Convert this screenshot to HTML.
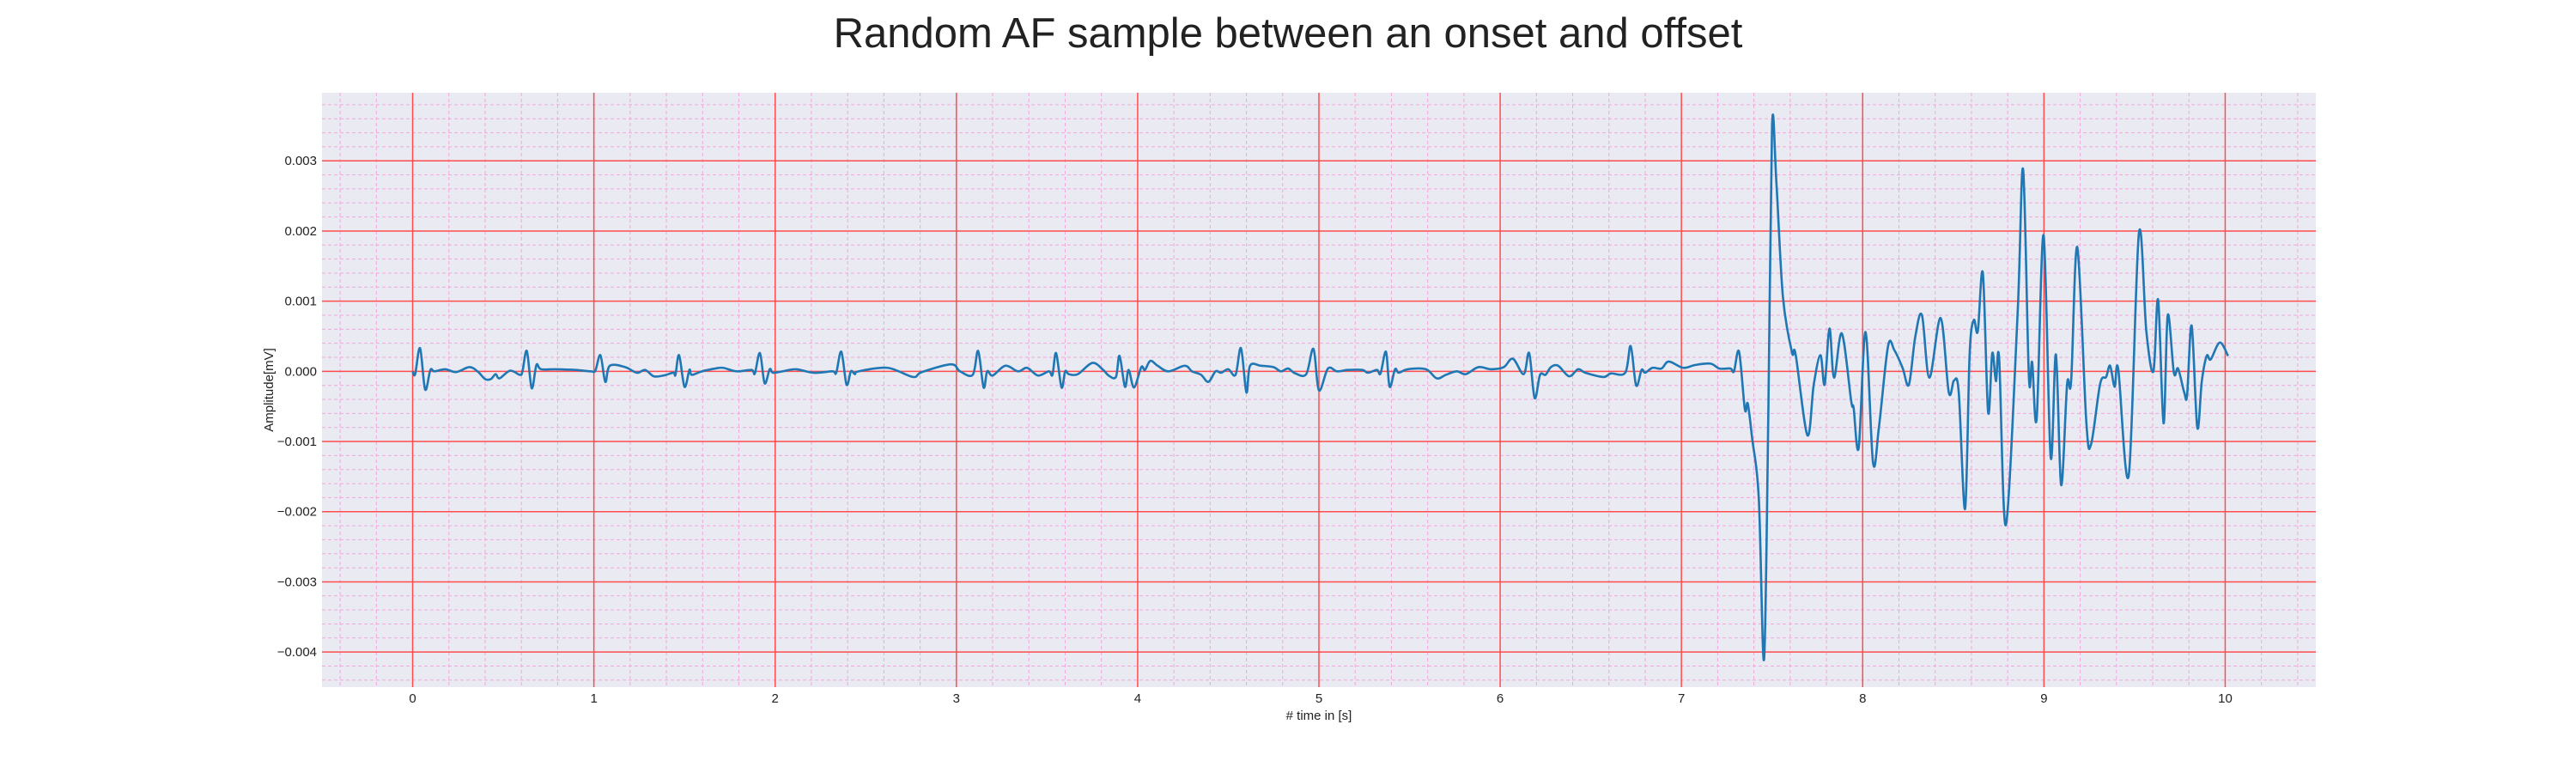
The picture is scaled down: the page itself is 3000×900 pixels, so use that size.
<!DOCTYPE html>
<html><head><meta charset="utf-8"><title>Random AF sample</title>
<style>
html,body{margin:0;padding:0;background:#fff;}
svg{display:block;font-family:"Liberation Sans",sans-serif;}
</style></head>
<body>
<svg id="chart" width="3000" height="900" viewBox="0 0 3000 900">
<text x="1500" y="55" text-anchor="middle" font-size="49" fill="#222">Random AF sample between an onset and offset</text>
<rect x="375" y="108" width="2322" height="692" fill="#eaeaf2"/>
<g id="minor-grid"></g>
<g id="major-grid"></g>
<g id="x-ticks"></g>
<g id="y-ticks"></g>
<path id="signal" fill="none" stroke="#1f77b4" stroke-width="2.6" stroke-linejoin="round"/>
<text x="1536" y="838" text-anchor="middle" font-size="15" fill="#222"># time in [s]</text>
<text transform="translate(318,454) rotate(-90)" text-anchor="middle" font-size="15" fill="#222">Amplitude[mV]</text>
</svg>
<script>
const xTickValues = [0,1,2,3,4,5,6,7,8,9,10];
const yTickValues = [-0.004,-0.003,-0.002,-0.001,0,0.001,0.002,0.003];
const yTickLabels = ["\u22120.004","\u22120.003","\u22120.002","\u22120.001","0.000","0.001","0.002","0.003"];
const timeS = [
0.0,0.014,0.041,0.069,0.098,0.12,0.18,0.24,0.312,0.358,0.40,0.432,0.458,0.479,0.538,0.591,0.606,0.63,0.657,0.683,0.708,0.792,0.898,0.983,1.008,1.036,1.063,1.088,1.173,1.237,1.283,1.33,1.384,1.438,1.45,1.47,1.50,1.527,1.54,1.596,1.67,1.713,1.787,1.87,1.888,1.916,1.942,1.97,1.988,2.04,2.115,2.21,2.316,2.337,2.365,2.394,2.418,2.44,
2.46,2.62,2.76,2.81,2.97,3.02,3.09,3.12,3.15,3.17,3.20,3.27,3.34,3.39,3.45,3.51,3.53,3.55,3.58,3.60,3.62,3.67,3.75,3.81,3.84,3.88,3.90,3.93,3.95,3.98,4.02,4.04,4.07,4.11,4.17,4.26,4.30,4.35,4.39,4.43,4.46,4.50,4.54,4.57,4.60,4.62,4.68,4.75,4.79,4.83,4.87,4.93,4.97,5.00,
5.05,5.10,5.16,5.24,5.27,5.32,5.34,5.37,5.39,5.42,5.44,5.49,5.59,5.65,5.70,5.76,5.81,5.88,5.95,6.02,6.07,6.13,6.16,6.19,6.22,6.25,6.28,6.32,6.38,6.43,6.47,6.57,6.61,6.69,6.72,6.75,6.78,6.80,6.84,6.89,6.93,7.01,7.075,7.16,7.21,7.27,7.29,7.318,
7.35,7.366,7.39,7.427,7.456,7.48,7.50,7.524,7.56,7.61,7.63,7.695,7.73,7.767,7.79,7.817,7.842,7.885,7.937,7.95,7.978,8.016,8.057,8.09,8.14,8.175,8.22,8.255,8.29,8.327,8.368,8.43,8.475,8.504,8.53,8.565,8.59,8.613,8.635,8.663,8.692,8.715,8.735,8.753,8.79,8.855,8.885,8.917,8.935,8.96,8.998,9.037,9.066,9.095,9.128,9.15,9.184,9.234,9.26,9.31,9.343,9.365,9.39,9.41,9.468,9.524,9.565,9.604,9.63,9.66,9.683,9.717,9.74,9.774,9.79,9.815,9.846,9.871,9.898,9.92,9.97,10.016
];
const ampMV = [
0,-0.00004,0.00033,-0.00026,0.00002,0,0.00003,-0.00001,0.00006,0,-0.00011,-0.00011,-0.00004,-0.0001,0.00001,-0.00005,0,0.00029,-0.00024,0.00009,0.00003,0.00003,0.00002,0,0.00001,0.00023,-0.00015,0.00008,0.00006,-0.00002,0.00002,-0.00007,-0.00006,-0.00002,-0.00005,0.00023,-0.00022,0.00002,-0.00005,0,0.00004,0.00005,0,0.00002,-0.00003,0.00026,-0.00017,0.00003,-0.00002,0,0.00003,-0.00002,0,-0.00002,0.00028,-0.00019,0,-0.00004,
0,0.00005,-0.00008,-0.00001,0.0001,0,-0.00005,0.00029,-0.00023,0,-0.00006,0.00008,0,0.00005,-0.00006,0,-0.00005,0.00026,-0.00023,0,-0.00004,-0.00004,0.00012,0.00002,-0.00006,-0.00008,0.00022,-0.00022,0.00002,-0.00023,0.00006,0.00002,0.00015,0.00008,0,0.00008,0,-0.00005,-0.00015,0,-0.00002,0.00003,-0.00005,0.00033,-0.0003,0.00008,0.00008,0.00006,0,0.00004,-0.00003,-0.00004,0.00032,-0.00027,
0.00004,0,0.00002,0.00002,-0.00002,0.00002,-0.00003,0.00028,-0.00022,0.00003,-0.00002,0.00003,0.00003,-0.0001,-0.00005,0,-0.00004,0.00006,0.00003,0.00006,0.00018,-0.00004,0.00026,-0.00038,-0.00005,-0.00005,0.00006,0.00008,-0.00007,0.00003,-0.00002,-0.00008,-0.00003,-0.00002,0.00036,-0.0002,0.00002,-0.00002,0.00005,0.00004,0.00014,0.00005,0.00009,0.00011,0.00004,0.00004,0,0.00028,
-0.00054,-0.00046,-0.00095,-0.00182,-0.0041,-0.0005,0.0035,0.00269,0.00106,0.00027,0.00024,-0.00091,-0.00019,0.00023,-0.00019,0.00061,-0.00009,0.00054,-0.00043,-0.00052,-0.00109,0.00056,-0.0013,-0.00079,0.00036,0.0003,0.00005,-0.00019,0.00049,0.0008,-0.00009,0.00076,-0.0003,-0.00013,-0.0003,-0.00196,0.00024,0.00073,0.00057,0.0014,-0.00058,0.00026,-0.00014,0.00018,-0.00219,0.00084,0.00288,-0.00008,0.00013,-0.00067,0.00194,-0.00122,0.00024,-0.00162,-0.00018,-0.00014,0.00177,-0.00073,-0.00104,-0.00018,-0.00008,0.00008,-0.00022,0.00003,-0.00148,0.00197,0.00057,0,0.00102,-0.00074,0.0008,-0.00002,0.00004,-0.0003,-0.00033,0.00065,-0.0008,-0.00014,0.00022,0.00017,0.00041,0.00022
];
const X0=-0.5, X1=10.5, Y0=-0.0045, Y1=0.00397;
const PL=375, PR=2697, PT=108, PB=800;
function xScale(t){return PL+(t-X0)/(X1-X0)*(PR-PL);}
function yScale(v){return PB-(v-Y0)/(Y1-Y0)*(PB-PT);}
const NS='http://www.w3.org/2000/svg';
function mk(tag,parent){const e=document.createElementNS(NS,tag);parent.appendChild(e);return e;}
const minor=document.getElementById('minor-grid');
for(let i=-2;i<=52;i++){ if(i%5===0) continue; const t=i*0.2; const x=xScale(t); if(x<PL||x>PR) continue;
  const l=mk('line',minor); l.setAttribute('x1',x);l.setAttribute('x2',x);l.setAttribute('y1',PT);l.setAttribute('y2',PB);
  l.setAttribute('stroke','#f2a6dc');l.setAttribute('stroke-width','1');l.setAttribute('stroke-dasharray','4,3');
  
  }
for(let i=-22;i<=19;i++){ if(i%5===0) continue; const v=i*0.0002; const y=yScale(v); if(y<PT||y>PB) continue;
  const l=mk('line',minor); l.setAttribute('x1',PL);l.setAttribute('x2',PR);l.setAttribute('y1',y);l.setAttribute('y2',y);
  l.setAttribute('stroke','#f2a6dc');l.setAttribute('stroke-width','1');l.setAttribute('stroke-dasharray','4,3');
  
  }
const major=document.getElementById('major-grid');
const xt=document.getElementById('x-ticks');
xTickValues.forEach(t=>{const x=xScale(t);
  const l=mk('line',major);l.setAttribute('x1',x);l.setAttribute('x2',x);l.setAttribute('y1',PT);l.setAttribute('y2',PB);
  l.setAttribute('stroke','#ff4d4d');l.setAttribute('stroke-width','1.5');
  
  
  const tx=mk('text',xt);tx.setAttribute('x',x);tx.setAttribute('y',818);tx.setAttribute('text-anchor','middle');
  tx.setAttribute('font-size','15');tx.setAttribute('fill','#222');tx.textContent=String(t);
  
  });
const yt=document.getElementById('y-ticks');
yTickValues.forEach((v,i)=>{const y=yScale(v);
  const l=mk('line',major);l.setAttribute('x1',PL);l.setAttribute('x2',PR);l.setAttribute('y1',y);l.setAttribute('y2',y);
  l.setAttribute('stroke','#ff4d4d');l.setAttribute('stroke-width','1.5');
  
  
  const tx=mk('text',yt);tx.setAttribute('x',369);tx.setAttribute('y',y+5);tx.setAttribute('text-anchor','end');
  tx.setAttribute('font-size','15');tx.setAttribute('fill','#222');tx.textContent=yTickLabels[i];
  
  });
const pts=timeS.map((t,i)=>[xScale(t),yScale(ampMV[i])]);
let d='M'+pts[0][0].toFixed(2)+','+pts[0][1].toFixed(2);
for(let i=0;i<pts.length-1;i++){
  const p0=pts[Math.max(0,i-1)],p1=pts[i],p2=pts[i+1],p3=pts[Math.min(pts.length-1,i+2)];
  const k=1/6;
  const c1=[p1[0]+(p2[0]-p0[0])*k,p1[1]+(p2[1]-p0[1])*k];
  const c2=[p2[0]-(p3[0]-p1[0])*k,p2[1]-(p3[1]-p1[1])*k];
  d+=' C'+c1[0].toFixed(2)+','+c1[1].toFixed(2)+' '+c2[0].toFixed(2)+','+c2[1].toFixed(2)+' '+p2[0].toFixed(2)+','+p2[1].toFixed(2);
}
document.getElementById('signal').setAttribute('d',d);
</script>
</body></html>
